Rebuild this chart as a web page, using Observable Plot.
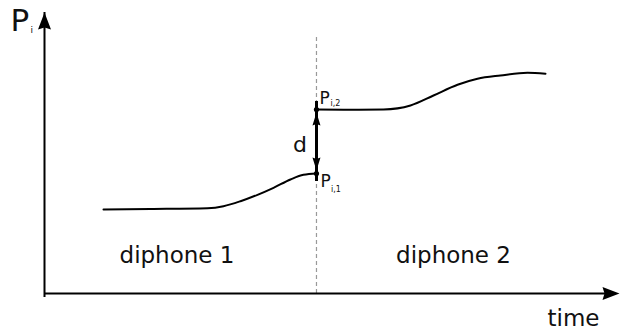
<!DOCTYPE html>
<html>
<head>
<meta charset="utf-8">
<script src="https://cdn.jsdelivr.net/npm/d3@7"></script>
<script src="https://cdn.jsdelivr.net/npm/@observablehq/plot@0.6"></script>
<style>
  html, body { margin: 0; padding: 0; background: #fff; }
</style>
</head>
<body>
<div id="chart"></div>
<script>
// ---- data (abstract units: time 0..100, value 0..100) ----
const boundary = 47.3;          // concatenation point between diphones
const dashTop = 92.1;           // top of dashed boundary line
const seg1T = [10.26, 18.43, 28.35, 31.13, 34.09, 37.04, 39.83, 42.78, 45.04, 47.30];
const seg1V = [29.89, 30.07, 30.36, 31.07, 32.85, 35.12, 37.62, 40.57, 42.24, 42.70];
const seg2T = [47.30, 53.22, 58.96, 63.65, 67.65, 71.83, 75.30, 79.30, 84.00, 87.13];
const seg2V = [65.48, 65.37, 65.48, 66.90, 70.46, 74.27, 76.41, 77.58, 78.54, 78.19];
const pi1 = 42.70;              // P_i,1
const pi2 = 65.48;              // P_i,2

// centred labels
const midLabels = [
  {text: "d", x: 44.43, y: 50.28, size: 22},
  {text: "diphone 1", x: 23.04, y: 10.78, size: 23},
  {text: "diphone 2", x: 71.13, y: 10.78, size: 23},
  {text: "time", x: 92.0, y: -11.64, size: 23}
];
// left-anchored labels (P with subscripts)
const startLabels = [
  {text: "P", x: -5.91, y: 93.24, size: 31},
  {text: "i", x: -2.45, y: 92.53, size: 9},
  {text: "P", x: 47.83, y: 67.26, size: 17},
  {text: "i,2", x: 49.75, y: 66.73, size: 8},
  {text: "P", x: 48.0, y: 37.83, size: 17},
  {text: "i,1", x: 49.84, y: 36.12, size: 8}
];

const seg1 = seg1T.map((t, i) => ({t, v: seg1V[i]}));
const seg2 = seg2T.map((t, i) => ({t, v: seg2V[i]}));

// arrowhead symbol, pointing up with tip at origin
const head = (len, half, notch) => ({
  draw(ctx) {
    ctx.moveTo(0, 0);
    ctx.lineTo(half, len);
    ctx.lineTo(0, notch);
    ctx.lineTo(-half, len);
    ctx.closePath();
  }
});
const axisHead = head(17, 6.5, 15);
const dHead = head(13, 4, 11.5);

const font = "DejaVu Sans";

const chart = Plot.plot({
  width: 627,
  height: 334,
  margin: 0,
  style: {background: "#fff", fontFamily: font},
  x: {domain: [0, 100], range: [44, 619], axis: null},
  y: {domain: [0, 100], range: [293, 12], axis: null},
  marks: [
    // dashed boundary
    Plot.ruleX([boundary], {y1: 0, y2: dashTop, stroke: "#999", strokeWidth: 1.2, strokeDasharray: "4,3"}),
    // axes
    Plot.ruleX([0], {y1: 0, y2: 100, stroke: "black", strokeWidth: 2, insetTop: 4}),
    Plot.ruleY([0], {x1: 0, x2: 100, stroke: "black", strokeWidth: 2, insetRight: 4}),
    Plot.dot([{x: 0, y: 100}], {x: "x", y: "y", symbol: axisHead, fill: "black", stroke: "none", rotate: 0}),
    Plot.dot([{x: 100, y: 0}], {x: "x", y: "y", symbol: axisHead, fill: "black", stroke: "none", rotate: 90}),
    // curves
    Plot.line(seg1, {x: "t", y: "v", curve: "monotone-x", stroke: "black", strokeWidth: 2}),
    Plot.line(seg2, {x: "t", y: "v", curve: "monotone-x", stroke: "black", strokeWidth: 2}),
    // distance arrow
    Plot.ruleX([boundary], {y1: pi1, y2: pi2, stroke: "black", strokeWidth: 3, insetTop: 8, insetBottom: 8}),
    Plot.dot([{x: boundary, y: pi2}], {x: "x", y: "y", symbol: dHead, fill: "black", stroke: "none", rotate: 0, dy: 3}),
    Plot.dot([{x: boundary, y: pi1}], {x: "x", y: "y", symbol: dHead, fill: "black", stroke: "none", rotate: 180, dy: -3}),
    // endpoints
    Plot.dot([{x: boundary, y: pi1}, {x: boundary, y: pi2}], {x: "x", y: "y", r: 2.6, fill: "black", stroke: "none"}),
    // labels
    Plot.text(midLabels, {x: "x", y: "y", text: "text", fontSize: "size", textAnchor: "middle", lineAnchor: "bottom", fill: "#111", fontFamily: font}),
    Plot.text(startLabels, {x: "x", y: "y", text: "text", fontSize: "size", textAnchor: "start", lineAnchor: "bottom", fill: "#111", fontFamily: font})
  ]
});
document.getElementById("chart").appendChild(chart);
</script>
</body>
</html>
